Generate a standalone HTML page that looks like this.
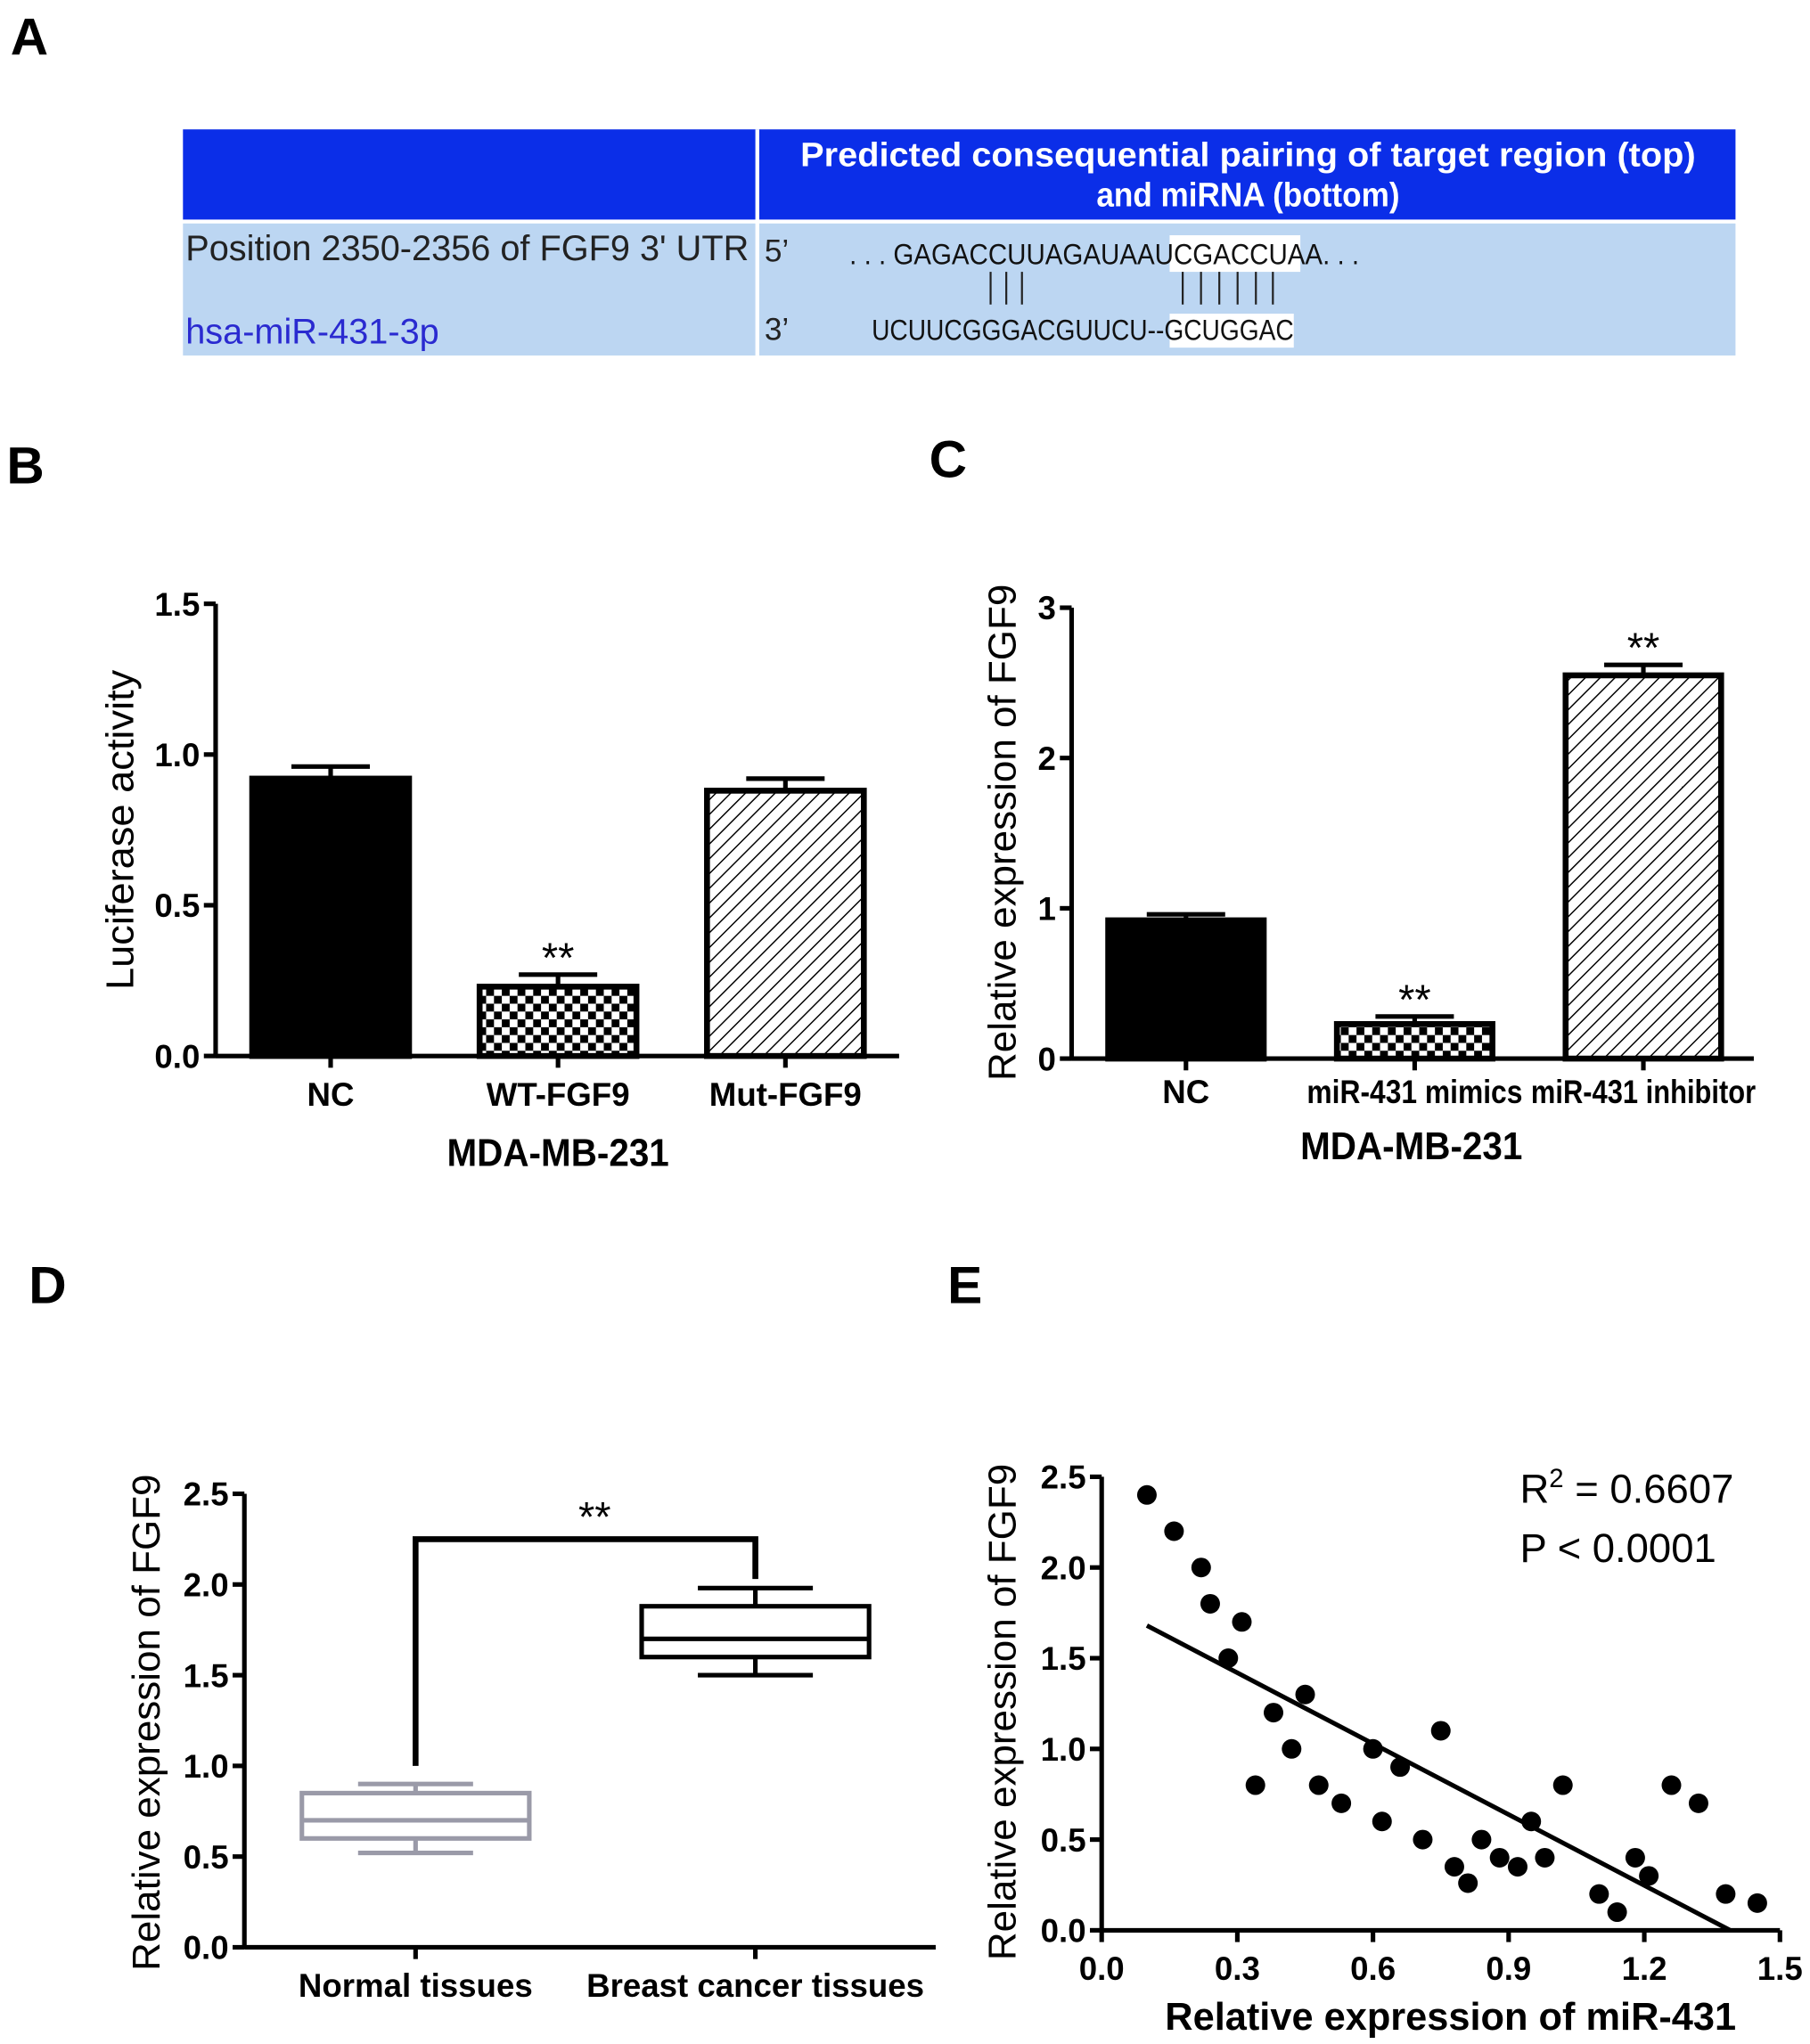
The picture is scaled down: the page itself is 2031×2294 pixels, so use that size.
<!DOCTYPE html>
<html><head><meta charset="utf-8">
<style>
html,body{margin:0;padding:0;background:#fff;}
svg{display:block;}
text{font-family:"Liberation Sans",Arial,sans-serif;}
.tk{font-weight:bold;font-size:25px;}
.ttl{font-size:30px;}
.pl{font-weight:bold;font-size:40px;}
</style></head>
<body>
<svg id="fig" width="2031" height="2294" viewBox="0 0 1385 1564" preserveAspectRatio="none" xmlns="http://www.w3.org/2000/svg">
<defs>
<pattern id="checker" width="12" height="12" patternUnits="userSpaceOnUse">
<rect width="12" height="12" fill="#fff"/><rect width="6" height="6" fill="#000"/><rect x="6" y="6" width="6" height="6" fill="#000"/>
</pattern>
<pattern id="hatch" width="8" height="8" patternUnits="userSpaceOnUse" patternTransform="rotate(45)">
<rect width="8" height="8" fill="#fff"/><line x1="0" y1="0" x2="0" y2="8" stroke="#000" stroke-width="2"/>
</pattern>
</defs>

<!-- Panel A -->
<text class="pl" x="8" y="42">A</text>
<g>
<rect x="140" y="99" width="1188" height="69" fill="#0b2ee8"/>
<rect x="140" y="171" width="1188" height="101" fill="#bcd6f2"/>
<rect x="578" y="99" width="3" height="173" fill="#fff"/>
<text x="955" y="127" fill="#fff" font-weight="bold" font-size="26" text-anchor="middle" textLength="685" lengthAdjust="spacingAndGlyphs">Predicted consequential pairing of target region (top)</text>
<text x="955" y="158" fill="#fff" font-weight="bold" font-size="26" text-anchor="middle" textLength="232" lengthAdjust="spacingAndGlyphs">and miRNA (bottom)</text>
<text x="142" y="199" font-size="27" fill="#222" textLength="431" lengthAdjust="spacingAndGlyphs">Position 2350-2356 of FGF9 3' UTR</text>
<text x="142" y="263" font-size="27" fill="#2a2ad0" textLength="194" lengthAdjust="spacingAndGlyphs">hsa-miR-431-3p</text>
<text x="585" y="200" font-size="24" fill="#222" font-family="Liberation Serif">5’</text>
<text x="585" y="260" font-size="24" fill="#222" font-family="Liberation Serif">3’</text>
<rect x="895" y="180" width="100" height="28" fill="#fff"/>
<rect x="895" y="240" width="95" height="26" fill="#fff"/>
<text x="650" y="202" font-size="22" font-family="Liberation Serif" fill="#111" textLength="390" lengthAdjust="spacingAndGlyphs">. . . GAGACCUUAGAUAAUCGACCUAA. . .</text>
<g stroke="#222" stroke-width="1.5">
<line x1="758" y1="208" x2="758" y2="233"/><line x1="770" y1="208" x2="770" y2="233"/><line x1="782" y1="208" x2="782" y2="233"/>
<line x1="905" y1="208" x2="905" y2="233"/><line x1="919" y1="208" x2="919" y2="233"/><line x1="933" y1="208" x2="933" y2="233"/><line x1="947" y1="208" x2="947" y2="233"/><line x1="961" y1="208" x2="961" y2="233"/><line x1="974" y1="208" x2="974" y2="233"/>
</g>
<text x="667" y="260" font-size="22" font-family="Liberation Serif" fill="#111" textLength="323" lengthAdjust="spacingAndGlyphs">UCUUCGGGACGUUCU--GCUGGAC</text>
</g>

<text class="pl" x="5" y="370">B</text>
<text class="pl" x="711" y="365">C</text>
<text class="pl" x="22" y="997">D</text>
<text class="pl" x="725" y="997">E</text>

<g id="pb"></g>
<g id="pc"></g>
<g id="pd"></g>
<g id="pe"></g>
</svg>
<script>
// Panel B data
const bCategories = ["NC", "WT-FGF9", "Mut-FGF9"];
const bValues = [0.92, 0.23, 0.88];
const bErrors = [0.04, 0.04, 0.04];
const bTicks = [0.0, 0.5, 1.0, 1.5];
// Panel C data
const cCategories = ["NC", "miR-431 mimics", "miR-431 inhibitor"];
const cValues = [0.92, 0.23, 2.55];
const cErrors = [0.04, 0.05, 0.07];
const cTicks = [0, 1, 2, 3];
// Panel D data
const dCategories = ["Normal  tissues", "Breast cancer tissues"];
const dWhiskerLow = [0.52, 1.50];
const dQ1 = [0.60, 1.60];
const dMedian = [0.70, 1.70];
const dQ3 = [0.85, 1.88];
const dWhiskerHigh = [0.90, 1.98];
const dTicks = [0.0, 0.5, 1.0, 1.5, 2.0, 2.5];
// Panel E data
const eX = [0.10,0.16,0.22,0.24,0.31,0.28,0.45,0.38,0.42,0.34,0.60,0.66,0.48,0.53,0.62,0.75,0.71,0.78,0.81,0.84,0.88,0.92,0.95,0.98,1.02,1.10,1.14,1.18,1.21,1.26,1.32,1.38,1.45];
const eY = [2.40,2.20,2.00,1.80,1.70,1.50,1.30,1.20,1.00,0.80,1.00,0.90,0.80,0.70,0.60,1.10,0.50,0.35,0.26,0.50,0.40,0.35,0.60,0.40,0.80,0.20,0.10,0.40,0.30,0.80,0.70,0.20,0.15];
const eFitX = [0.10, 1.39];
const eFitY = [1.68, 0.00];
const eXTicks = [0.0, 0.3, 0.6, 0.9, 1.2, 1.5];
const eYTicks = [0.0, 0.5, 1.0, 1.5, 2.0, 2.5];

const NS = "http://www.w3.org/2000/svg";
function mk(parent, tag, attrs, txt) {
  const e = document.createElementNS(NS, tag);
  for (const k in attrs) e.setAttribute(k, attrs[k]);
  if (txt !== undefined) e.textContent = txt;
  parent.appendChild(e);
  return e;
}
function lin(d0, d1, r0, r1) { return v => r0 + (v - d0) * (r1 - r0) / (d1 - d0); }

function yAxis(g, x, y, ticks, fmt, top, bottom) {
  const ax = mk(g, "line", {x1:x, y1:top, x2:x, y2:bottom, stroke:"#000", "stroke-width":3.5});
  
  
  ticks.forEach(t => {
    mk(g, "line", {x1:x-9, y1:y(t), x2:x, y2:y(t), stroke:"#000", "stroke-width":3.5});
    const tl = mk(g, "text", {x:x-12, y:y(t)+9, "text-anchor":"end", class:"tk"}, fmt(t));
    
    
  });
}
function yTitle(g, x, cy, txt, len) {
  const t = mk(g, "text", {x:x, y:cy, "text-anchor":"middle", class:"ttl", textLength:len, lengthAdjust:"spacingAndGlyphs", transform:`rotate(-90 ${x} ${cy})`}, txt);
  
  
}

function barChart(g, o) {
  const y = lin(0, o.ymax, o.y0, o.ytop);
  yAxis(g, o.ax, y, o.ticks, o.fmt, o.ytop, o.y0 + 1);
  const xa = mk(g, "line", {x1:o.ax, y1:o.y0, x2:o.xend, y2:o.y0, stroke:"#000", "stroke-width":3.5});
  
  
  const fills = ["#000", "url(#checker)", "url(#hatch)"];
  o.cats.forEach((c, i) => {
    const x0 = o.bx0 + i * o.step, cx = x0 + o.bw / 2;
    const top = y(o.vals[i] + o.errs[i]);
    mk(g, "line", {x1:cx, y1:y(o.vals[i]), x2:cx, y2:top, stroke:"#000", "stroke-width":3.5});
    mk(g, "line", {x1:cx-30, y1:top, x2:cx+30, y2:top, stroke:"#000", "stroke-width":3.5});
    const r = mk(g, "rect", {x:x0, y:y(o.vals[i]), width:o.bw, height:o.y0 - y(o.vals[i]), fill:fills[i], stroke:"#000", "stroke-width":4.5});
    
    
    mk(g, "line", {x1:cx, y1:o.y0, x2:cx, y2:o.y0+9, stroke:"#000", "stroke-width":3.5});
    const la = {x:cx, y:o.y0 + o.labDy, "text-anchor":"middle", class:"tk", "font-size":o.labFs};
    if (o.labLen && o.labLen[i]) { la.textLength = o.labLen[i]; la.lengthAdjust = "spacingAndGlyphs"; }
    const l = mk(g, "text", la, c);
    
    
    if (o.sig[i]) {
      const s = mk(g, "text", {x:cx, y:top - 2, "text-anchor":"middle", "font-size":32}, "**");
      
      
    }
  });
  const xt = mk(g, "text", {x:o.xtX, y:o.xtY, "text-anchor":"middle", class:"ttl", "font-size":28, "font-weight":"bold", textLength:170, lengthAdjust:"spacingAndGlyphs"}, "MDA-MB-231");
  
  
  yTitle(g, o.ytX, o.ytCY, o.ytitle, o.ytLen);
}

barChart(document.getElementById("pb"), {
  cats:bCategories, vals:bValues, errs:bErrors, ticks:bTicks, fmt:t=>t.toFixed(1),
  ymax:1.5, y0:808, ytop:462, ax:165, xend:688, bx0:193, bw:120, step:174,
  labDy:38, labFs:27, sig:[false,true,false], xtX:427, xtY:892, ytX:102, ytCY:635, ytitle:"Luciferase activity", ytLen:245
});
barChart(document.getElementById("pc"), {
  cats:cCategories, vals:cValues, errs:cErrors, ticks:cTicks, fmt:t=>String(t),
  ymax:3, y0:810, ytop:465, ax:820, xend:1342, bx0:848, bw:119, step:175,
  labDy:34, labFs:20, labLen:[0,165,172], sig:[false,true,true], xtX:1080, xtY:887, ytX:777, ytCY:637, ytitle:"Relative expression of FGF9", ytLen:380
});

// Panel D
(function(){
  const g = document.getElementById("pd");
  const y = lin(0, 2.5, 1490, 1143);
  yAxis(g, 187, y, dTicks, t=>t.toFixed(1), 1143, 1491);
  const xa = mk(g, "line", {x1:187, y1:1490, x2:716, y2:1490, stroke:"#000", "stroke-width":3.5});
  
  
  const cxs = [318, 578], hw = 87, cols = ["#9a9aa8", "#000"];
  dCategories.forEach((c, i) => {
    const cx = cxs[i], col = cols[i];
    const b = mk(g, "g", {});
    
    
    mk(b, "line", {x1:cx, y1:y(dWhiskerLow[i]), x2:cx, y2:y(dQ1[i]), stroke:col, "stroke-width":3.5});
    mk(b, "line", {x1:cx, y1:y(dQ3[i]), x2:cx, y2:y(dWhiskerHigh[i]), stroke:col, "stroke-width":3.5});
    mk(b, "line", {x1:cx-44, y1:y(dWhiskerLow[i]), x2:cx+44, y2:y(dWhiskerLow[i]), stroke:col, "stroke-width":3.5});
    mk(b, "line", {x1:cx-44, y1:y(dWhiskerHigh[i]), x2:cx+44, y2:y(dWhiskerHigh[i]), stroke:col, "stroke-width":3.5});
    mk(b, "rect", {x:cx-hw, y:y(dQ3[i]), width:hw*2, height:y(dQ1[i])-y(dQ3[i]), fill:"none", stroke:col, "stroke-width":3.5});
    mk(b, "line", {x1:cx-hw, y1:y(dMedian[i]), x2:cx+hw, y2:y(dMedian[i]), stroke:col, "stroke-width":3.5});
    mk(g, "line", {x1:cx, y1:1490, x2:cx, y2:1499, stroke:"#000", "stroke-width":3.5});
    const l = mk(g, "text", {x:cx, y:1528, "text-anchor":"middle", class:"tk", "font-size":27}, c);
    
    
  });
  const br = mk(g, "polyline", {points:`${cxs[0]},${y(1.0)} ${cxs[0]},${y(2.25)} ${cxs[1]},${y(2.25)} ${cxs[1]},${y(2.03)}`, fill:"none", stroke:"#000", "stroke-width":4.5});
  
  
  const s = mk(g, "text", {x:455, y:y(2.25)-6, "text-anchor":"middle", "font-size":32}, "**");
  
  
  yTitle(g, 122, 1318, "Relative expression of FGF9", 380);
})();

// Panel E
(function(){
  const g = document.getElementById("pe");
  const x = lin(0, 1.5, 843, 1362), y = lin(0, 2.5, 1477, 1130);
  yAxis(g, 843, y, eYTicks, t=>t.toFixed(1), 1130, 1478);
  const xa = mk(g, "line", {x1:843, y1:1477, x2:1362, y2:1477, stroke:"#000", "stroke-width":3.5});
  
  
  eXTicks.forEach(t => {
    mk(g, "line", {x1:x(t), y1:1477, x2:x(t), y2:1486, stroke:"#000", "stroke-width":3.5});
    const l = mk(g, "text", {x:x(t), y:1515, "text-anchor":"middle", class:"tk"}, t.toFixed(1));
    
    
  });
  eX.forEach((v, i) => {
    const c = mk(g, "circle", {cx:x(v), cy:y(eY[i]), r:7.5, fill:"#000"});
    
    
  });
  const fl = mk(g, "line", {x1:x(eFitX[0]), y1:y(eFitY[0]), x2:x(eFitX[1]), y2:y(eFitY[1]), stroke:"#000", "stroke-width":3.5});
  
  
  const r = mk(g, "text", {x:1163, y:1150, "font-size":31}, "");
  
  
  r.appendChild(document.createTextNode("R"));
  mk(r, "tspan", {dy:-12, "font-size":20}, "2");
  mk(r, "tspan", {dy:12}, " = 0.6607");
  const p = mk(g, "text", {x:1163, y:1195, "font-size":31}, "P < 0.0001");
  
  
  const xt = mk(g, "text", {x:1110, y:1553, "text-anchor":"middle", class:"ttl", "font-weight":"bold", "font-size":29, textLength:437, lengthAdjust:"spacingAndGlyphs"}, "Relative expression of miR-431");
  
  
  yTitle(g, 777, 1310, "Relative expression of FGF9", 380);
})();
</script>
</body></html>
